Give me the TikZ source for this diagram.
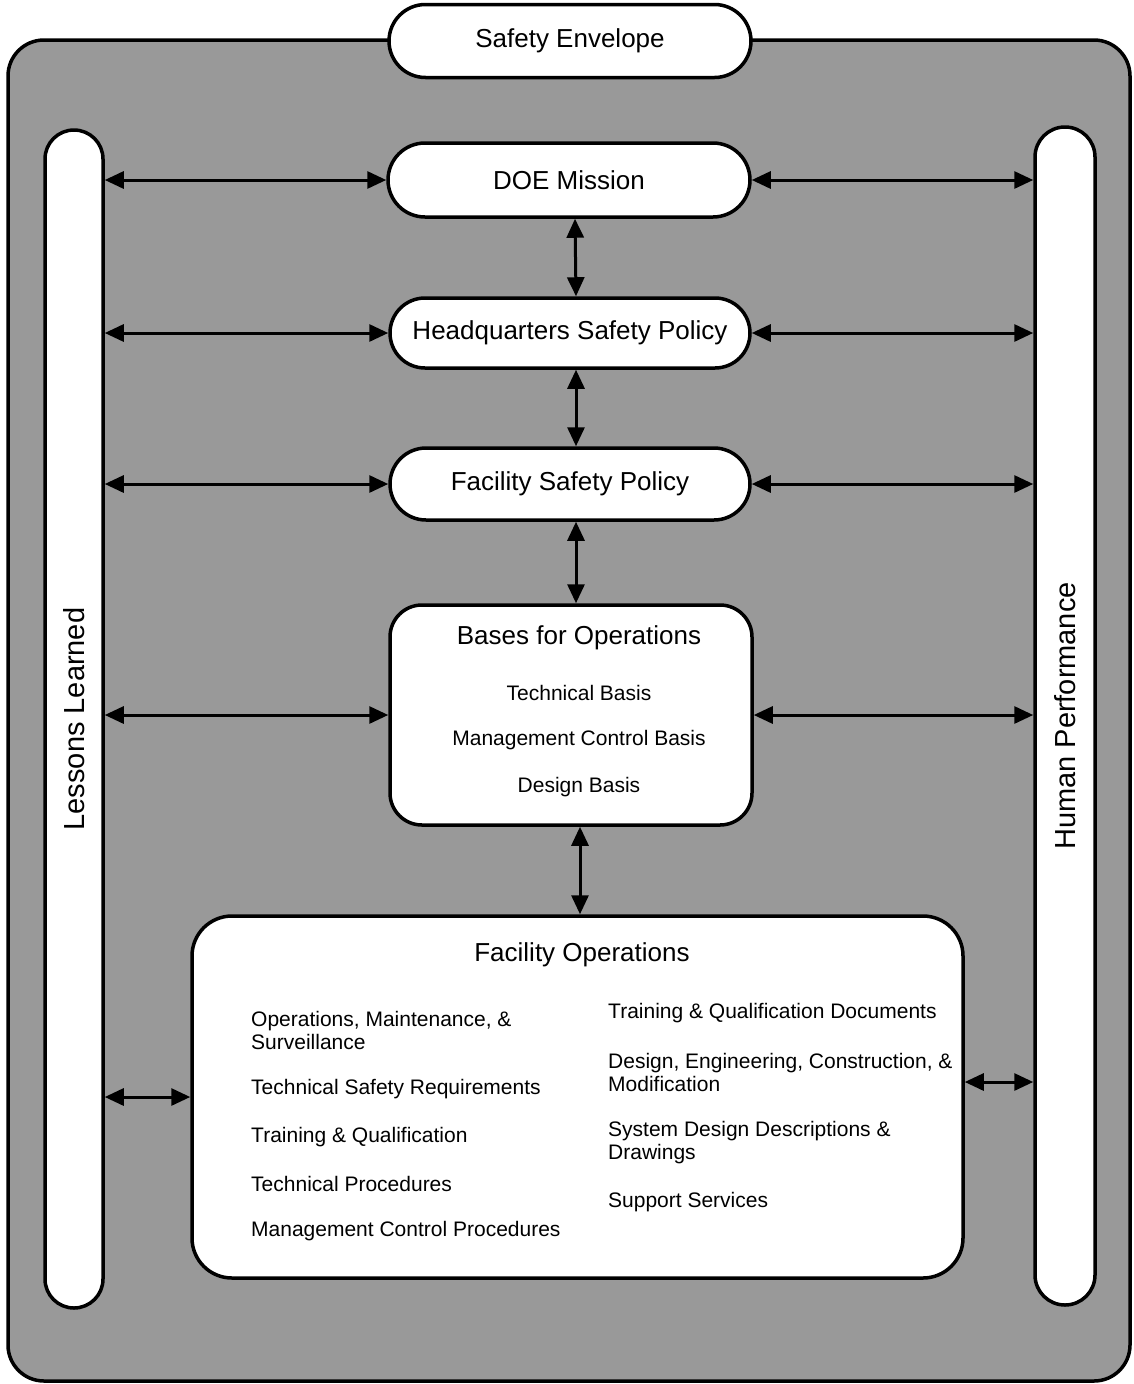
\documentclass[tikz,border=0pt]{standalone}
\usepackage{fontspec}
\setmainfont{Liberation Sans}
\usetikzlibrary{arrows.meta,shapes.misc}
\begin{document}
\begin{tikzpicture}[x=1pt,y=-1pt,
  box/.style={draw=black,line width=3.5pt,fill=white},
  pill/.style={box,rounded rectangle,inner sep=0pt},
  rbox/.style={box,rectangle,inner sep=0pt},
  big/.style={font=\fontsize{26}{30}\selectfont},
  side/.style={font=\fontsize{29}{32}\selectfont},
  small/.style={font=\fontsize{21}{23}\selectfont,align=left,inner sep=0pt},
  link/.style={line width=3pt,{Triangle[length=19pt,width=17pt]}-{Triangle[length=19pt,width=17pt]}},
]
\useasboundingbox (0,0) rectangle (1134,1384);
\fill[white] (0,0) rectangle (1134,1384);
\draw[line width=3.5pt, fill=black!40, rounded corners=36pt] (8,40) rectangle (1130,1381);

\node[pill,big,minimum width=362pt,minimum height=73pt] (env) at (570,41) {Safety Envelope};
\node[pill,side,rotate=90,minimum width=1178pt,minimum height=58pt] (ll) at (74,719) {Lessons Learned};
\node[pill,side,rotate=90,minimum width=1178pt,minimum height=60pt] (hp) at (1065,716) {Human Performance};

\node[pill,big,minimum width=362pt,minimum height=74pt] (doe) at (569,180) {DOE Mission};
\node[pill,big,minimum width=360pt,minimum height=70pt] (hq) at (570,333) {Headquarters Safety Policy};
\node[pill,big,minimum width=360pt,minimum height=72pt] (fsp) at (570,484) {Facility Safety Policy};
\node[rbox,rounded corners=32pt,minimum width=362pt,minimum height=220pt] (bases) at (571,715) {};
\node[rbox,rounded corners=40pt,minimum width=771pt,minimum height=362pt] (fo) at (577.5,1097) {};

\node[big] (bt) at (579,638) {Bases for Operations};
\node[small] (b1) at (579,693) {Technical Basis};
\node[small] (b2) at (579,740) {Management Control Basis};
\node[small] (b3) at (579,787) {Design Basis};

\node[big] (fot) at (582,955) {Facility Operations};
\node[small,anchor=west] (om) at (251,1030) {Operations, Maintenance, \&\\Surveillance};
\node[small,anchor=west] (tsr) at (251,1089) {Technical Safety Requirements};
\node[small,anchor=west] (tq) at (251,1137) {Training \& Qualification};
\node[small,anchor=west] (tp) at (251,1184) {Technical Procedures};
\node[small,anchor=west] (mcp) at (251,1231) {Management Control Procedures};
\node[small,anchor=west] (tqd) at (608,1013) {Training \& Qualification Documents};
\node[small,anchor=west] (dec) at (608,1072) {Design, Engineering, Construction, \&\\Modification};
\node[small,anchor=west] (sdd) at (608,1143) {System Design Descriptions \&\\Drawings};
\node[small,anchor=west] (ss) at (608,1202) {Support Services};

\coordinate (foe) at ([yshift=15pt]fo.east);

\draw[link] (ll.south |- doe.west) -- (doe.west);
\draw[link] (ll.south |- hq.west) -- (hq.west);
\draw[link] (ll.south |- fsp.west) -- (fsp.west);
\draw[link] (ll.south |- bases.west) -- (bases.west);
\draw[link] (ll.south |- fo.west) -- (fo.west);

\draw[link] (doe.east) -- (hp.north |- doe.east);
\draw[link] (hq.east) -- (hp.north |- hq.east);
\draw[link] (fsp.east) -- (hp.north |- fsp.east);
\draw[link] (bases.east) -- (hp.north |- bases.east);
\draw[link] (foe) -- (hp.north |- foe);

\coordinate (d1) at ([xshift=6pt]doe.south);
\coordinate (h1) at ([xshift=6pt]hq.north);
\coordinate (h2) at ([xshift=6pt]hq.south);
\coordinate (f1) at ([xshift=6pt]fsp.north);
\coordinate (f2) at ([xshift=6pt]fsp.south);
\coordinate (b9) at ([xshift=9pt]bases.south);
\draw[link] (d1) -- (h1);
\draw[link] (h2) -- (f1);
\draw[link] (f2) -- (f2 |- bases.north);
\draw[link] (b9) -- (b9 |- fo.north);
\end{tikzpicture}
\end{document}
